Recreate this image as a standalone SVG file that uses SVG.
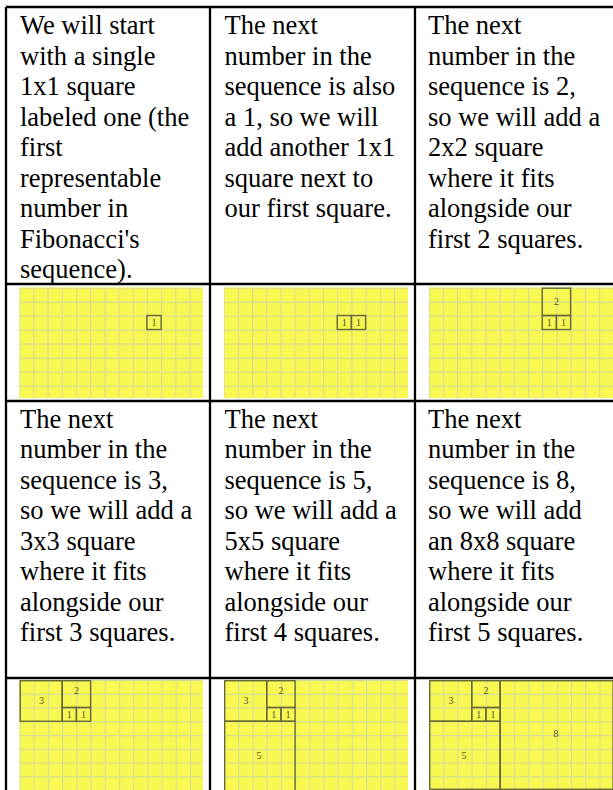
<svg xmlns="http://www.w3.org/2000/svg" width="613" height="790" viewBox="0 0 613 790">
<style>
.t{font-family:"Liberation Serif","Times New Roman",serif;font-size:26.5px;fill:#000}
.bd{stroke:#000;stroke-width:2.3;fill:none}
.bg{fill:#F8F852}
.sq{fill:none;stroke:#6A6A32;stroke-width:1.4}
.lb{font-family:"Liberation Serif","Times New Roman",serif;font-size:10px;fill:#55552A;text-anchor:middle}
</style>
<defs>
<pattern id="g2" patternUnits="userSpaceOnUse" x="13.8" y="0" width="14.2" height="14">
<path d="M0.5 0V14M0 0.5H14.2" stroke="#DADA90" stroke-width="1.3" fill="none"/>
</pattern>
<pattern id="g4" patternUnits="userSpaceOnUse" x="0" y="0" width="14.2" height="13.75">
<path d="M0.5 0V13.75M0 0.5H14.2" stroke="#DADA90" stroke-width="1.3" fill="none"/>
</pattern>
</defs>
<rect width="613" height="790" fill="#fff"/>

<g id="cell-r1c1">
<text class="t" x="20" y="34"><tspan x="20">We will start</tspan><tspan x="20" dy="30.5">with a single</tspan><tspan x="20" dy="30.5">1x1 square</tspan><tspan x="20" dy="30.5">labeled one (the</tspan><tspan x="20" dy="30.5">first</tspan><tspan x="20" dy="30.5">representable</tspan><tspan x="20" dy="30.5">number in</tspan><tspan x="20" dy="30.5">Fibonacci's</tspan><tspan x="20" dy="30.5">sequence).</tspan></text>
</g>
<g id="cell-r1c2">
<text class="t" x="224.5" y="34"><tspan x="224.5">The next</tspan><tspan x="224.5" dy="30.5">number in the</tspan><tspan x="224.5" dy="30.5">sequence is also</tspan><tspan x="224.5" dy="30.5">a 1, so we will</tspan><tspan x="224.5" dy="30.5">add another 1x1</tspan><tspan x="224.5" dy="30.5">square next to</tspan><tspan x="224.5" dy="30.5">our first square.</tspan></text>
</g>
<g id="cell-r1c3">
<text class="t" x="428" y="34"><tspan x="428">The next</tspan><tspan x="428" dy="30.5">number in the</tspan><tspan x="428" dy="30.5">sequence is 2,</tspan><tspan x="428" dy="30.5">so we will add a</tspan><tspan x="428" dy="30.5">2x2 square</tspan><tspan x="428" dy="30.5">where it fits</tspan><tspan x="428" dy="30.5">alongside our</tspan><tspan x="428" dy="30.5">first 2 squares.</tspan></text>
</g>

<g id="img-r2c1" transform="translate(19.5,287.5)">
<rect class="bg" width="183.5" height="110.5"/><rect fill="url(#g2)" width="183.5" height="110.5"/>
<rect class="sq" x="127.4" y="28" width="14.2" height="14"/>
<text class="lb" x="134.5" y="38.8">1</text>
</g>
<g id="img-r2c2" transform="translate(224,287.5)">
<rect class="bg" width="184" height="110.5"/><rect fill="url(#g2)" width="184" height="110.5"/>
<rect class="sq" x="113.2" y="28" width="14.2" height="14"/><rect class="sq" x="127.4" y="28" width="14.2" height="14"/>
<text class="lb" x="120.3" y="38.8">1</text><text class="lb" x="134.5" y="38.8">1</text>
</g>
<g id="img-r2c3" transform="translate(429,287.5)">
<rect class="bg" width="184" height="110.5"/><rect fill="url(#g2)" width="184" height="110.5"/>
<rect class="sq" x="113.2" y="0.7" width="28.4" height="27.3"/>
<rect class="sq" x="113.2" y="28" width="14.2" height="14"/><rect class="sq" x="127.4" y="28" width="14.2" height="14"/>
<text class="lb" x="127.4" y="17.5">2</text>
<text class="lb" x="120.3" y="38.8">1</text><text class="lb" x="134.5" y="38.8">1</text>
</g>

<g id="cell-r3c1">
<text class="t" x="20" y="427.5"><tspan x="20">The next</tspan><tspan x="20" dy="30.5">number in the</tspan><tspan x="20" dy="30.5">sequence is 3,</tspan><tspan x="20" dy="30.5">so we will add a</tspan><tspan x="20" dy="30.5">3x3 square</tspan><tspan x="20" dy="30.5">where it fits</tspan><tspan x="20" dy="30.5">alongside our</tspan><tspan x="20" dy="30.5">first 3 squares.</tspan></text>
</g>
<g id="cell-r3c2">
<text class="t" x="224.5" y="427.5"><tspan x="224.5">The next</tspan><tspan x="224.5" dy="30.5">number in the</tspan><tspan x="224.5" dy="30.5">sequence is 5,</tspan><tspan x="224.5" dy="30.5">so we will add a</tspan><tspan x="224.5" dy="30.5">5x5 square</tspan><tspan x="224.5" dy="30.5">where it fits</tspan><tspan x="224.5" dy="30.5">alongside our</tspan><tspan x="224.5" dy="30.5">first 4 squares.</tspan></text>
</g>
<g id="cell-r3c3">
<text class="t" x="428" y="427.5"><tspan x="428">The next</tspan><tspan x="428" dy="30.5">number in the</tspan><tspan x="428" dy="30.5">sequence is 8,</tspan><tspan x="428" dy="30.5">so we will add</tspan><tspan x="428" dy="30.5">an 8x8 square</tspan><tspan x="428" dy="30.5">where it fits</tspan><tspan x="428" dy="30.5">alongside our</tspan><tspan x="428" dy="30.5">first 5 squares.</tspan></text>
</g>

<g id="img-r4c1" transform="translate(19.5,680)">
<rect class="bg" width="183.5" height="110"/><rect fill="url(#g4)" width="183.5" height="110"/>
<rect class="sq" x="0.7" y="0.7" width="42" height="40.55"/>
<rect class="sq" x="42.7" y="0.7" width="28.4" height="26.8"/>
<rect class="sq" x="42.7" y="27.5" width="14.2" height="13.75"/><rect class="sq" x="56.9" y="27.5" width="14.2" height="13.75"/>
<text class="lb" x="22" y="24">3</text><text class="lb" x="56.9" y="14">2</text>
<text class="lb" x="49.8" y="37.8">1</text><text class="lb" x="64" y="37.8">1</text>
</g>
<g id="img-r4c2" transform="translate(224,680)">
<rect class="bg" width="184" height="110"/><rect fill="url(#g4)" width="184" height="110"/>
<rect class="sq" x="0.7" y="0.7" width="42" height="40.55"/>
<rect class="sq" x="42.7" y="0.7" width="28.4" height="26.8"/>
<rect class="sq" x="42.7" y="27.5" width="14.2" height="13.75"/><rect class="sq" x="56.9" y="27.5" width="14.2" height="13.75"/>
<rect class="sq" x="0.7" y="41.25" width="70.4" height="75"/>
<text class="lb" x="22" y="24">3</text><text class="lb" x="56.9" y="14">2</text>
<text class="lb" x="49.8" y="37.8">1</text><text class="lb" x="64" y="37.8">1</text>
<text class="lb" x="35" y="79">5</text>
</g>
<g id="img-r4c3" transform="translate(429,680)">
<rect class="bg" width="184" height="110"/><rect fill="url(#g4)" width="184" height="110"/>
<rect class="sq" x="0.7" y="0.7" width="42" height="40.55"/>
<rect class="sq" x="42.7" y="0.7" width="28.4" height="26.8"/>
<rect class="sq" x="42.7" y="27.5" width="14.2" height="13.75"/><rect class="sq" x="56.9" y="27.5" width="14.2" height="13.75"/>
<rect class="sq" x="0.7" y="41.25" width="70.4" height="68"/>
<rect class="sq" x="71.1" y="0.7" width="113" height="108.55"/>
<text class="lb" x="22" y="24">3</text><text class="lb" x="56.9" y="14">2</text>
<text class="lb" x="49.8" y="37.8">1</text><text class="lb" x="64" y="37.8">1</text>
<text class="lb" x="35" y="79">5</text><text class="lb" x="127" y="57">8</text>
</g>

<g id="table-borders">
<path class="bd" d="M6 7H613M6 7V790M210 7V790M415 7V790M6 284H613M6 401H613M6 678H613"/>
</g>
</svg>
